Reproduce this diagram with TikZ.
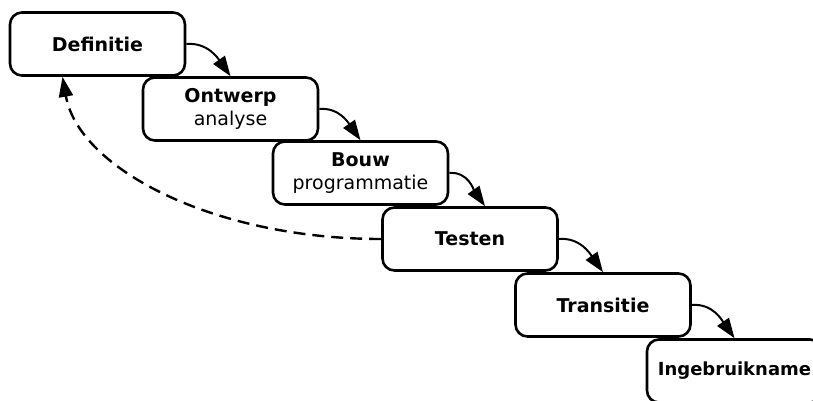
\documentclass[tikz,border=0pt]{standalone}
\usepackage{fontspec}
\setmainfont{DejaVu Sans}
\usetikzlibrary{arrows.meta}
\begin{document}
\begin{tikzpicture}[
  x=1pt, y=1pt,
  box/.style={rectangle, draw, line width=2.6pt, rounded corners=12pt, minimum width=175pt, minimum height=63pt, align=center, font=\fontsize{19}{23}\selectfont},
  arrow/.style={-{Triangle[length=20pt,width=14pt]}, line width=2pt},
  back/.style={-{Triangle[length=20pt,width=14pt]}, line width=2.4pt, dash pattern=on 12pt off 7pt}
]
\clip (0,0) rectangle (813,-401);
\node[box] (definitie) at (97.5,-44) {\textbf{Definitie}};
\node[box] (ontwerp) at (230.5,-109) {\textbf{Ontwerp}\\analyse};
\node[box] (bouw) at (360.5,-173) {\textbf{Bouw}\\programmatie};
\node[box] (testen) at (470,-239) {\textbf{Testen}};
\node[box] (transitie) at (603,-305) {\textbf{Transitie}};
\node[box, font=\fontsize{18}{22}\selectfont] (ingebruikname) at (734.5,-371) {\textbf{Ingebruikname}};

\draw[arrow] (definitie.east) to[out=5, in=125] (ontwerp.north);
\draw[arrow] (ontwerp.east) to[out=5, in=125] (bouw.north);
\draw[arrow] (bouw.east) to[out=5, in=125] ([xshift=15pt]testen.north);
\draw[arrow] (testen.east) to[out=5, in=125] (transitie.north);
\draw[arrow] (transitie.east) to[out=5, in=125] (ingebruikname.north);
\draw[back] (testen.west) to[out=180, in=-80, out looseness=1.2, in looseness=0.67] ([xshift=-35pt]definitie.south);
\end{tikzpicture}
\end{document}
